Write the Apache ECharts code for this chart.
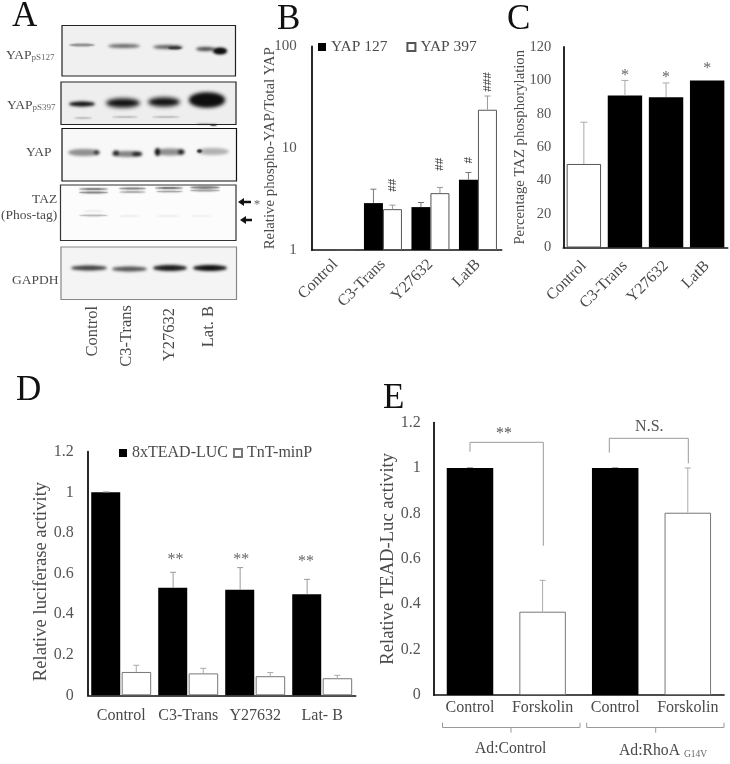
<!DOCTYPE html>
<html><head><meta charset="utf-8">
<script src="https://cdn.jsdelivr.net/npm/echarts@6/dist/echarts.min.js"></script>
<style>html,body{margin:0;padding:0;background:#fff}#c{width:730px;height:764px;filter:blur(0.4px)}</style>
</head><body><div id="c"></div>
<script>
const FONT = '"Liberation Serif","Times New Roman",serif';
const TXT = '#4a4a4a';

// Panel B
const bCats = ['Control','C3-Trans','Y27632','LatB'];
const bYap127 = [1, 2.89, 2.64, 4.89];
const bYap127Err = [null, 3.96, 2.93, 5.78];
const bYap397 = [1, 2.52, 3.62, 23.9];
const bYap397Err = [null, 2.76, 4.12, 32.6];
// Panel C
const cCats = ['Control','C3-Trans','Y27632','LatB'];
const cValues = [50, 91, 90, 100];
const cErr = [75, 100, 98.5, null];
// Panel D
const dCats = ['Control','C3-Trans','Y27632','Lat- B'];
const dTead = [1, 0.53, 0.52, 0.4975];
const dTeadErr = [1.002, 0.606, 0.629, 0.571];
const dTnt = [0.115, 0.108, 0.094, 0.084];
const dTntErr = [0.148, 0.133, 0.112, 0.0985];
// Panel E
const eCats = ['Control','Forskolin','Control ','Forskolin '];
const eValues = [1, 0.367, 1, 0.803];
const eErr = [1.002, 0.505, 1.002, 1.0];
const eFills = ['#000','#fff','#000','#fff'];
// Significance marks: [category, value, offset in bands]
const bMarks = [[1,4.34,0.2],[2,6.97,0.2],[3,7.62,-0.2],[3,44.7,0.2]];
const bMarkText = ['##','##','#','###'];
const cMarks = [[1,104.4,0],[2,103.2,0],[3,108.8,0]];
const dMarks = [[1,0.683,-0.19],[2,0.683,-0.21],[3,0.671,-0.24]];
const eMarks = [[0,1.165,0.47],[2,1.183,0.47]];
const eMarkText = ['**','N.S.'];

// Western blot panel A (decorative image): box + bands [x1,x2,y,half-height,darkness]
const blots = [
  {x:62,y:25.5,w:173.5,h:50.5,bg:'#f0f0f0',edge:'#222',bands:[
    [69,95,45,1.5,.45],[108,140,46,2,.6],[153,183,47,2,.65],[168,182,48,1.5,.7],[196,215,49,2,.75],[213,227,51,3,1],[214,226,51,2.5,1]]},
  {x:61,y:82,w:175,h:42.5,bg:'#eeeeee',edge:'#222',bands:[
    [69,95,104,2.5,1],[106,140,103,4.5,1],[148,180,102,4.5,1],[189,225,100,7,1],[191,223,100,6,1],
    [74,92,118,.7,.3],[112,138,117,.7,.3],[152,180,117,.7,.3],[196,212,124,.7,.35],[210,217,125,.9,.9]]},
  {x:62,y:128.5,w:174.5,h:52.5,bg:'#f8f8f8',edge:'#111',bands:[
    [68,100,152.5,3.5,.45],[94,99,152.5,2,.85],[112,142,154,3,.5],[113,119,153,2.5,.9],[132,142,154,2,.9],
    [155,185,152,3.5,.45],[155,160,152,4,1],[178,184,152,2.5,.9],[197,229,151.5,3.5,.3],[197,202,151,1.8,.85]]},
  {x:60.5,y:185,w:175.5,h:55.5,bg:'#fcfcfc',edge:'#333',bands:[
    [79,108,189,1,.6],[79,108,192.5,1,.6],[119,146,188.5,1,.6],[119,146,192,.8,.5],
    [155,183,188,1,.65],[156,183,191.5,.8,.5],[190,220,187.5,1.2,.6],[190,220,190.5,1,.45],
    [79,108,215.5,.7,.4],[82,105,211,.6,.12],[118,140,216,.6,.12],[156,180,216,.6,.12],[190,212,216,.6,.1]]},
  {x:61,y:247,w:175.5,h:52.5,bg:'#f4f4f4',edge:'#888',bands:[
    [71,107,268,2.5,.8],[112,147,269,2.5,.7],[153,187,268,3,.95],[193,227,268,3,1]]}
];
const blotLabels = [
  {t:'{a|YAP}{s|pS127}',x:6,y:55},{t:'{a|YAP}{s|pS397}',x:7,y:105},
  {t:'{a|YAP}',x:26,y:152},{t:'{a|TAZ}',x:32,y:199},{t:'{a|(Phos-tag)}',x:1,y:215},{t:'{a|GAPDH}',x:12,y:280}
];
const laneLabels = [['Control',93,306],['C3-Trans',127,305],['Y27632',170,308],['Lat. B',209,306]];
const panelLetters = [['A',12,17],['B',277,20],['C',507,20],['D',16,391],['E',383,399]];

const graphic = [];
const OFF = 3000;
blots.forEach(b=>{
  graphic.push({type:'rect',shape:{x:b.x,y:b.y,width:b.w,height:b.h},style:{fill:b.bg}});
  b.bands.forEach(k=>{
    const col = `rgba(15,15,15,${k[4]})`;
    graphic.push({type:'ellipse',shape:{cx:(k[0]+k[1])/2-OFF,cy:k[2],rx:(k[1]-k[0])/2,ry:k[3]},
      style:{fill:'#000',shadowBlur:k[3]>4?4:(k[3]>=2?3:1.5),shadowColor:col,shadowOffsetX:OFF}});
  });
  graphic.push({type:'rect',shape:{x:b.x,y:b.y,width:b.w,height:b.h},style:{fill:'none',stroke:b.edge,lineWidth:1.2}});
});
blotLabels.forEach(l=>graphic.push({type:'text',x:l.x,y:l.y,style:{text:l.t,verticalAlign:'middle',
  rich:{a:{font:'13.5px '+FONT,fill:TXT},s:{font:'9px '+FONT,fill:'#666',verticalAlign:'bottom',padding:[6,0,0,0]}}}}));
laneLabels.forEach(l=>graphic.push({type:'text',x:l[1],y:l[2],rotation:Math.PI/2,style:{text:l[0],
  font:'16.5px '+FONT,fill:TXT,align:'right',verticalAlign:'middle'}}));
panelLetters.forEach(l=>graphic.push({type:'text',x:l[1],y:l[2],style:{text:l[0],font:'35px '+FONT,fill:'#111',verticalAlign:'middle'}}));
// arrows by the TAZ blot
[[238,251,202],[240,252,220]].forEach(a=>graphic.push({type:'polygon',shape:{points:[
  [a[0],a[2]],[a[0]+6,a[2]-4],[a[0]+6,a[2]-1.2],[a[1],a[2]-1.2],[a[1],a[2]+1.2],[a[0]+6,a[2]+1.2],[a[0]+6,a[2]+4]]},style:{fill:'#111'}}));
graphic.push({type:'text',x:257,y:205,style:{text:'*',font:'13px '+FONT,fill:'#666',align:'center',verticalAlign:'middle'}});
// brackets, panel E
const LINE = {stroke:'#999',lineWidth:1,fill:'none'};
[[[470,451.7],[470,442.3],[543.3,442.3],[543.3,545.7]],
 [[609.3,452.7],[609.3,438.3],[688.3,438.3],[688.3,463.3]],
 [[442.5,722.7],[442.5,727.5],[580,727.5],[580,722.7]],
 [[511,727.5],[511,732.7]],
 [[586.7,722.7],[586.7,727.5],[724,727.5],[724,722.7]],
 [[655.7,727.5],[655.7,732.7]]
].forEach(p=>graphic.push({type:'polyline',shape:{points:p},style:LINE}));
graphic.push({type:'text',x:510.7,y:749,style:{text:'Ad:Control',font:'15.7px '+FONT,fill:TXT,align:'center',verticalAlign:'middle'}});
graphic.push({type:'text',x:619,y:751,style:{text:'{a|Ad:RhoA }{s|G14V}',verticalAlign:'middle',
  rich:{a:{font:'15.7px '+FONT,fill:TXT},s:{font:'9.5px '+FONT,fill:'#666',padding:[7,0,0,0]}}}});

function axisX(i,cats,rotate,margin){
  return {type:'category',gridIndex:i,data:cats,axisTick:{show:false},
    axisLine:{lineStyle:{color:'#111',width:1.6}},
    axisLabel:{interval:0,rotate:rotate,margin:margin,color:TXT,fontFamily:FONT,fontSize:16,hideOverlap:false,
      formatter:s=>s.trim()}};
}
function axisY(i,name,nameSize,gap,margin,labelSize,extra){
  return Object.assign({type:'value',gridIndex:i,name:name,nameLocation:'middle',nameGap:gap,nameRotate:90,
    nameMoveOverlap:false,
    nameTextStyle:{color:TXT,fontFamily:FONT,fontSize:nameSize},
    splitLine:{show:false},axisTick:{show:false},
    axisLine:{show:true,lineStyle:{color:'#111',width:1.8}},
    axisLabel:{margin:margin,color:'#555',fontFamily:FONT,fontSize:labelSize}},extra);
}
function errSeries(i,vals,errs,offset,color,cap){
  const data = vals.map((v,k)=>[k,v,errs[k]]).filter(d=>d[2]!=null);
  return {type:'custom',xAxisIndex:i,yAxisIndex:i,silent:true,clip:false,z:5,data:data,
    encode:{x:0,y:[1,2]},
    renderItem:(p,api)=>{
      const band = api.size([1,1])[0];
      const a = api.coord([api.value(0),api.value(1)]);
      const b = api.coord([api.value(0),api.value(2)]);
      const x = a[0]+offset*band;
      const st = {stroke:color,lineWidth:1,fill:'none'};
      return {type:'group',children:[
        {type:'line',shape:{x1:x,y1:a[1],x2:x,y2:b[1]},style:st},
        {type:'line',shape:{x1:x-cap,y1:b[1],x2:x+cap,y2:b[1]},style:st}]};
    }};
}
function markSeries(i,marks,texts,font,dy,rot,color){
  return {type:'custom',xAxisIndex:i,yAxisIndex:i,silent:true,clip:false,z:6,data:marks,
    encode:{x:0,y:1},
    renderItem:(p,api)=>{
      const band = api.size([1,1])[0];
      const a = api.coord([api.value(0),api.value(1)]);
      const t = Array.isArray(texts)?texts[p.dataIndex]:texts;
      const isHash = t[0]==='#';
      return {type:'text',x:a[0]+api.value(2)*band,y:a[1]+(t.indexOf('*')>=0?dy:0),rotation:isHash?rot:0,
        style:{text:t,font:font,fill:color,align:'center',verticalAlign:'middle'}};
    }};
}
const BORDER = {borderColor:'#555',borderWidth:1};

const option = {
  backgroundColor:'#fff',animation:false,
  textStyle:{fontFamily:FONT},
  graphic:graphic,
  grid:[
    {left:311.7,top:46.5,width:190,height:203.5},
    {left:563.3,top:47,width:164.4,height:200.5},
    {left:87.7,top:451.7,width:268,height:243.6},
    {left:433.7,top:422.6,width:290.4,height:272.4}
  ],
  legend:[
    {left:318,top:39,padding:0,itemWidth:8,itemHeight:8,itemGap:19,icon:'rect',data:['YAP 127','YAP 397'],
      textStyle:{color:TXT,fontFamily:FONT,fontSize:15.5}},
    {left:119,top:445,padding:0,itemWidth:8,itemHeight:8,itemGap:5,icon:'rect',data:['8xTEAD-LUC','TnT-minP'],
      textStyle:{color:TXT,fontFamily:FONT,fontSize:16}}
  ],
  xAxis:[axisX(0,bCats,45,12),axisX(1,cCats,45,16),axisX(2,dCats,0,12),axisX(3,eCats,0,5)],
  yAxis:[
    axisY(0,'Relative phospho-YAP/Total YAP',14.8,34,15,15,{type:'log',logBase:10,min:1,max:100}),
    axisY(1,'Percentage TAZ phosphorylation',14.7,36,12,14.5,{min:0,max:120,interval:20}),
    axisY(2,'Relative luciferase activity',18.6,37,14,16,{min:0,max:1.2,interval:0.2}),
    axisY(3,'Relative TEAD-Luc activity',18.6,36,13,16,{min:0,max:1.2,interval:0.2})
  ],
  series:[
    {type:'bar',name:'YAP 127',xAxisIndex:0,yAxisIndex:0,data:bYap127,barWidth:19,barGap:'0%',
      itemStyle:{color:'#000',borderColor:'#000',borderWidth:0}},
    {type:'bar',name:'YAP 397',xAxisIndex:0,yAxisIndex:0,data:bYap397,barWidth:19,barGap:'0%',
      itemStyle:Object.assign({color:'#fff'},BORDER)},
    errSeries(0,bYap127,bYap127Err,-0.2,'#777',3),
    errSeries(0,bYap397,bYap397Err,0.2,'#999',3),
    markSeries(0,bMarks,bMarkText,'13px '+FONT,0,Math.PI/2,'#333'),

    {type:'bar',name:'TAZ',xAxisIndex:1,yAxisIndex:1,data:cValues.map((v,k)=>({value:v,
      itemStyle:k===0?Object.assign({color:'#fff'},BORDER):{color:'#000'}})),barWidth:34.4},
    errSeries(1,cValues,cErr,0,'#aaa',3.5),
    markSeries(1,cMarks,'*','16px '+FONT,3,0,'#666'),

    {type:'bar',name:'8xTEAD-LUC',xAxisIndex:2,yAxisIndex:2,data:dTead,barWidth:29,barGap:'5%',
      itemStyle:{color:'#000'}},
    {type:'bar',name:'TnT-minP',xAxisIndex:2,yAxisIndex:2,data:dTnt,barWidth:29.5,barGap:'5%',
      itemStyle:Object.assign({color:'#fff'},{borderColor:'#777',borderWidth:1})},
    errSeries(2,dTead,dTeadErr,-0.225,'#999',3),
    errSeries(2,dTnt,dTntErr,0.225,'#aaa',3),
    markSeries(2,dMarks,'**','16px '+FONT,3,0,'#666'),

    {type:'bar',name:'TEAD-Luc',xAxisIndex:3,yAxisIndex:3,barWidth:46.5,
      data:eValues.map((v,k)=>({value:v,itemStyle:eFills[k]==='#000'?{color:'#000'}:
        {color:'#fff',borderColor:'#777',borderWidth:1}}))},
    errSeries(3,eValues,eErr,0,'#aaa',3),
    markSeries(3,eMarks,eMarkText,'16px '+FONT,3,0,'#555')
  ]
};
option.yAxis[2].nameTextStyle.padding=[0,16,0,0];
const chart = echarts.init(document.getElementById('c'),null,{renderer:'canvas'});
chart.setOption(option);
</script></body></html>
